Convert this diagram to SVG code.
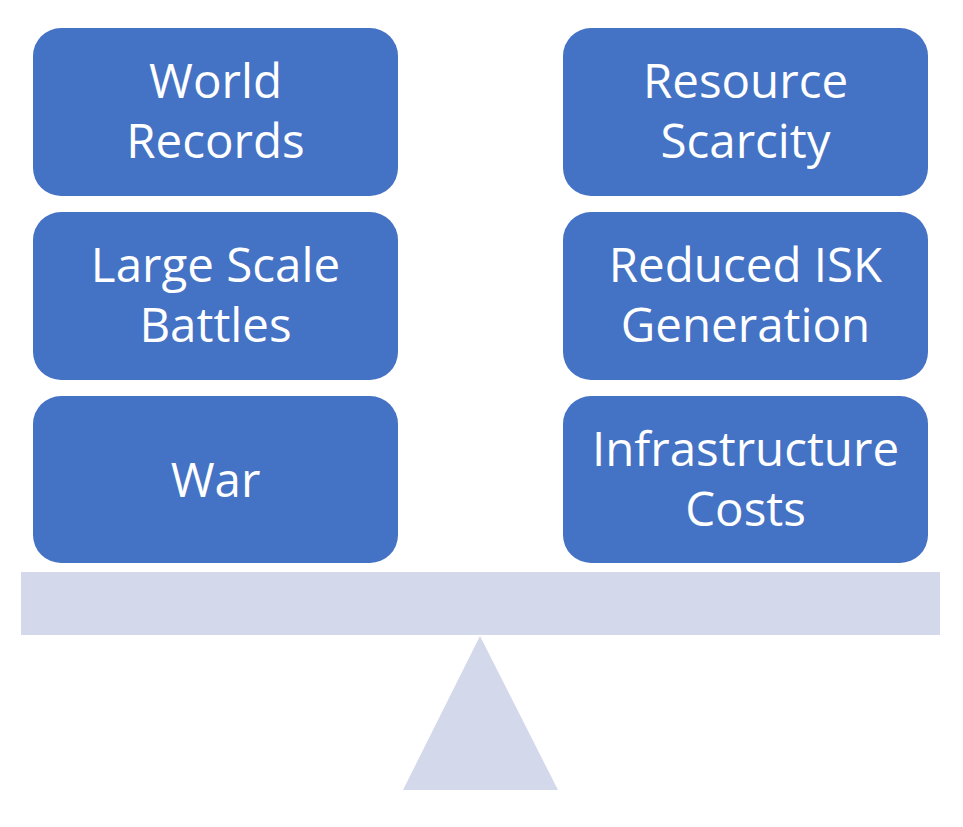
<svg xmlns="http://www.w3.org/2000/svg" width="963" height="827" viewBox="0 0 963 827">
<style>
.box{fill:#4472C4}
.lbl{fill:#FFFFFF;font-family:"Open Sans","Liberation Sans",sans-serif;font-size:47.5px;text-anchor:middle}
.base{fill:#D3D9EB}
</style>
<rect width="963" height="827" fill="#FFFFFF"/>
<g id="fulcrum">
<rect class="base" x="21" y="572" width="919" height="63"/>
<polygon class="base" points="480,636 558,790 403,790"/>
</g>
<g id="connectors"></g>
<g id="world-records">
<rect class="box" x="33" y="28" width="365" height="168" rx="28"/>
<text class="lbl" x="215.5" y="98">World</text>
<text class="lbl" x="215.5" y="158">Records</text>
</g>
<g id="large-scale-battles">
<rect class="box" x="33" y="212" width="365" height="168" rx="28"/>
<text class="lbl" x="215.5" y="282">Large Scale</text>
<text class="lbl" x="215.5" y="342">Battles</text>
</g>
<g id="war">
<rect class="box" x="33" y="396" width="365" height="167" rx="28"/>
<text class="lbl" x="215.5" y="497">War</text>
</g>
<g id="resource-scarcity">
<rect class="box" x="563" y="28" width="365" height="168" rx="28"/>
<text class="lbl" x="745.5" y="98">Resource</text>
<text class="lbl" x="745.5" y="158">Scarcity</text>
</g>
<g id="reduced-isk-generation">
<rect class="box" x="563" y="212" width="365" height="168" rx="28"/>
<text class="lbl" x="745.5" y="282">Reduced ISK</text>
<text class="lbl" x="745.5" y="342">Generation</text>
</g>
<g id="infrastructure-costs">
<rect class="box" x="563" y="396" width="365" height="167" rx="28"/>
<text class="lbl" x="745.5" y="466">Infrastructure</text>
<text class="lbl" x="745.5" y="526">Costs</text>
</g>
</svg>
